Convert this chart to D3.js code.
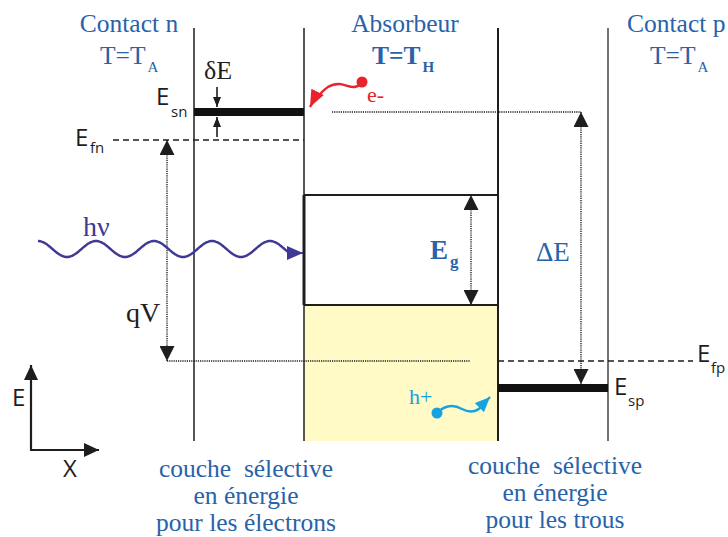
<!DOCTYPE html>
<html><head><meta charset="utf-8">
<script src="https://cdn.jsdelivr.net/npm/d3@7"></script>
<style>
html,body{margin:0;padding:0;background:#fff;}
svg{display:block;}
</style></head>
<body>
<script>
// ---------- data ----------
const layerTitles = ["Contact n", "Absorbeur", "Contact p"];
const layerTemps = ["A", "H", "A"];
const boundaries = [0, 1.1, 3.04, 4.14];            // interfaces (position units)
const levelNames = ["Esn", "Efn", "Ec", "Ev", "Efp", "Esp"];
const levelValues = [2.76, 2.48, 1.93, 0.83, 0.27, 0.0]; // energies (arb. eV)
const energyRange = [-0.53, 3.6];                   // extent of interface lines
const deltaE = 2.76;                                // ΔE = Esn - Esp
const qV = 2.21;                                    // Efn - Efp
const bottomLeft = ["couche  sélective", "en énergie", "pour les électrons"];
const bottomRight = ["couche  sélective", "en énergie", "pour les trous"];

// ---------- scales ----------
const W = 728, H = 537;
const x = d3.scaleLinear().domain([0, 4.14]).range([194, 608]);
const y = d3.scaleLinear().domain([0, 2.76]).range([388, 112]);
const lv = Object.fromEntries(levelNames.map((n, i) => [n, levelValues[i]]));

const BLUE = "#2862a9", BLACK = "#1e1e1e", PURPLE = "#3e3994", RED = "#e8232b", CYAN = "#17a3e0", YELLOW = "#fffac6";
const SERIF = "'Liberation Serif','Times New Roman',serif";
const SANS = "'Open Sans','DejaVu Sans',sans-serif";

const svg = d3.select("body").append("svg").attr("width", W).attr("height", H);
const defs = svg.append("defs");
function marker(id, color, w, l) {
  defs.append("marker").attr("id", id).attr("viewBox", "0 0 10 10")
    .attr("refX", 10).attr("refY", 5).attr("markerUnits", "userSpaceOnUse")
    .attr("markerWidth", l).attr("markerHeight", w).attr("orient", "auto-start-reverse")
    .attr("preserveAspectRatio", "none")
    .append("path").attr("d", "M0,0L10,5L0,10Z").attr("fill", color);
}
marker("big", BLACK, 15, 15);
marker("small", BLACK, 8, 10);
marker("axis", BLACK, 14, 15);
marker("purple", PURPLE, 14, 16);
marker("red", RED, 14, 17);
marker("cyan", CYAN, 13, 15);

// yellow valence band region in absorber
svg.append("rect").attr("x", x(boundaries[1])).attr("y", y(lv.Ev))
  .attr("width", x(boundaries[2]) - x(boundaries[1]))
  .attr("height", y(energyRange[0]) - y(lv.Ev)).attr("fill", YELLOW);

// interface lines
svg.selectAll("line.iface").data(boundaries).join("line").attr("class", "iface")
  .attr("x1", d => x(d)).attr("x2", d => x(d))
  .attr("y1", y(energyRange[1])).attr("y2", y(energyRange[0]))
  .attr("stroke", (d, i) => i === 3 ? "#444" : BLACK).attr("stroke-width", (d, i) => i === 2 ? 2 : 1.5);

// band gap box
svg.append("line").attr("x1", x(boundaries[1])).attr("x2", x(boundaries[2]))
  .attr("y1", y(lv.Ec)).attr("y2", y(lv.Ec)).attr("stroke", BLACK).attr("stroke-width", 1.8);
svg.append("line").attr("x1", x(boundaries[1])).attr("x2", x(boundaries[2]))
  .attr("y1", y(lv.Ev)).attr("y2", y(lv.Ev)).attr("stroke", BLACK).attr("stroke-width", 1.8);
svg.append("line").attr("x1", x(boundaries[1])).attr("x2", x(boundaries[1]))
  .attr("y1", y(lv.Ec)).attr("y2", y(lv.Ev)).attr("stroke", BLACK).attr("stroke-width", 3);

// selective contact levels (thick bars)
svg.append("line").attr("x1", x(boundaries[0])).attr("x2", x(boundaries[1]))
  .attr("y1", y(lv.Esn)).attr("y2", y(lv.Esn)).attr("stroke", "#111").attr("stroke-width", 8);
svg.append("line").attr("x1", x(boundaries[2])).attr("x2", x(boundaries[3]))
  .attr("y1", y(lv.Esp)).attr("y2", y(lv.Esp)).attr("stroke", "#111").attr("stroke-width", 8);

// quasi Fermi levels (dashed)
svg.append("line").attr("x1", x(-0.81)).attr("x2", x(boundaries[1]))
  .attr("y1", y(lv.Efn)).attr("y2", y(lv.Efn)).attr("stroke", BLACK).attr("stroke-width", 1.5).attr("stroke-dasharray", "6,4");
svg.append("line").attr("x1", x(boundaries[2])).attr("x2", x(4.99))
  .attr("y1", y(lv.Efp)).attr("y2", y(lv.Efp)).attr("stroke", BLACK).attr("stroke-width", 1.5).attr("stroke-dasharray", "6,4");

// dotted guide lines
const dot = { stroke: BLACK, "stroke-width": 1.4, "stroke-dasharray": "1.2,1" };
function dline(x1, y1, x2, y2, ms, me) {
  const l = svg.append("line").attr("x1", x1).attr("y1", y1).attr("x2", x2).attr("y2", y2);
  Object.entries(dot).forEach(([k, v]) => l.attr(k, v));
  if (ms) l.attr("marker-start", `url(#${ms})`);
  if (me) l.attr("marker-end", `url(#${me})`);
  return l;
}
dline(x(1.38), y(lv.Esn), x(3.87), y(lv.Esn));
dline(x(-0.27), y(lv.Efp), x(2.76), y(lv.Efp));
// qV arrow
dline(x(-0.27), y(lv.Efn), x(-0.27), y(lv.Efn - qV), "big", "big");
// ΔE arrow
dline(x(3.87), y(lv.Esn), x(3.87), y(lv.Esn - deltaE) - 4, "big", "big");
// Eg arrow
dline(x(2.77), y(lv.Ec), x(2.77), y(lv.Ev), "big", "big");

// δE small arrows
svg.append("line").attr("x1", 217).attr("x2", 217).attr("y1", 87).attr("y2", y(lv.Esn) - 5)
  .attr("stroke", BLACK).attr("stroke-width", 1.6).attr("marker-end", "url(#small)");
svg.append("line").attr("x1", 217).attr("x2", 217).attr("y1", 137).attr("y2", y(lv.Esn) + 5)
  .attr("stroke", BLACK).attr("stroke-width", 1.6).attr("marker-end", "url(#small)");

// photon wave hν
const wavePts = d3.range(38, 291, 1).map(px => [px, 249 - 8 * Math.cos(2 * Math.PI * (px - 38) / 58)]);
svg.append("path").attr("d", d3.line().curve(d3.curveBasis)(wavePts))
  .attr("fill", "none").attr("stroke", PURPLE).attr("stroke-width", 2.4);
svg.append("line").attr("x1", 289).attr("y1", 253).attr("x2", x(boundaries[1]) - 1).attr("y2", 253)
  .attr("stroke", PURPLE).attr("stroke-width", 2).attr("marker-end", "url(#purple)");

// electron
svg.append("path").attr("d", "M362,82 C355,92 347,84 339,84 C330,84 326,88 320,94 C315,99 312,103 310,107")
  .attr("fill", "none").attr("stroke", RED).attr("stroke-width", 2.4).attr("marker-end", "url(#red)");
svg.append("circle").attr("cx", 362).attr("cy", 82).attr("r", 5.5).attr("fill", RED);

// hole
svg.append("path").attr("d", "M437,413 C445,405 453,404 462,409 C470,413 478,412 484,404 C486,401 488,399 490,397")
  .attr("fill", "none").attr("stroke", CYAN).attr("stroke-width", 2.4).attr("marker-end", "url(#cyan)");
svg.append("circle").attr("cx", 437).attr("cy", 413).attr("r", 5.5).attr("fill", CYAN);

// E / X axes
svg.append("line").attr("x1", 31).attr("y1", 450).attr("x2", 31).attr("y2", 365)
  .attr("stroke", BLACK).attr("stroke-width", 2.2).attr("marker-end", "url(#axis)");
svg.append("line").attr("x1", 30).attr("y1", 450).attr("x2", 99).attr("y2", 450)
  .attr("stroke", BLACK).attr("stroke-width", 2.2).attr("marker-end", "url(#axis)");

// ---------- text ----------
function txt(t, px, py, o = {}) {
  return svg.append("text").attr("x", px).attr("y", py).text(t)
    .attr("font-family", o.font || SERIF).attr("font-size", o.size || 25.5)
    .attr("fill", o.color || BLACK).attr("font-weight", o.weight || "normal")
    .attr("text-anchor", o.anchor || "start");
}
const titleX = [129, 405, 627];
const titleAnchor = ["middle", "middle", "start"];
const tempX = [100, 372, 650];
layerTitles.forEach((t, i) => {
  txt(t, titleX[i], 32, { color: BLUE, anchor: titleAnchor[i] });
  const w = i === 1 ? "bold" : "normal";
  const tt = txt("T=T", tempX[i], 64, { color: BLUE, weight: w });
  const bw = tt.node().getComputedTextLength();
  txt(layerTemps[i], tempX[i] + bw + 2, 72, { color: BLUE, size: 15, weight: w });
});

txt("δE", 204, 79, { size: 26 });
txt("E", 156, 105, { font: SANS, size: 24 });
txt("sn", 171, 117, { font: SANS, size: 15 });
txt("E", 75, 146, { font: SANS, size: 24 });
txt("fn", 90, 153, { font: SANS, size: 15 });
txt("qV", 126, 322, { size: 28 });
txt("hν", 83, 236, { size: 28, color: PURPLE });
txt("e-", 367, 102, { size: 22, color: RED });
txt("E", 430, 259, { size: 27, color: BLUE, weight: "bold" });
txt("g", 450, 267, { size: 17, color: BLUE, weight: "bold" });
txt("ΔE", 536, 261, { size: 27, color: BLUE });
txt("E", 697, 362, { font: SANS, size: 24 });
txt("fp", 711, 373, { font: SANS, size: 15 });
txt("E", 614, 395, { font: SANS, size: 24 });
txt("sp", 628, 406, { font: SANS, size: 15 });
txt("h+", 409, 404, { size: 22, color: CYAN });
txt("E", 12, 406, { font: SANS, size: 24 });
txt("X", 63, 477, { font: SANS, size: 24 });

const rowsL = [477, 504, 531], rowsR = [474, 501, 528];
bottomLeft.forEach((t, i) => txt(t, 246, rowsL[i], { color: BLUE, anchor: "middle" }).style("white-space", "pre"));
bottomRight.forEach((t, i) => txt(t, 555, rowsR[i], { color: BLUE, anchor: "middle" }).style("white-space", "pre"));
</script>
</body></html>
